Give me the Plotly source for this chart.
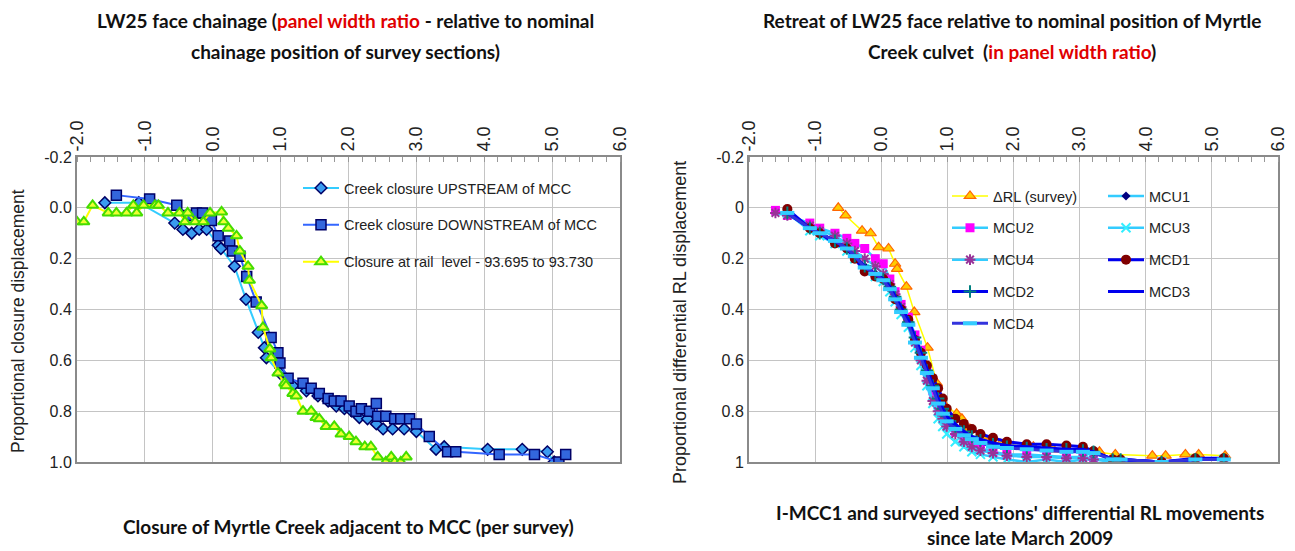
import plotly.graph_objects as go

# ---------------- data: left chart ----------------
up_x = [-1.59, -1.09, -0.56, -0.44, -0.31, -0.20, -0.09, 0.08, 0.12, 0.32,
        0.49, 0.67, 0.76, 0.79, 0.99, 1.18, 1.38, 1.55, 1.70, 1.82,
        1.94, 2.05, 2.16, 2.28, 2.41, 2.51, 2.65, 2.82, 3.00, 3.29,
        3.41, 4.05, 4.56, 4.93, 5.03]
up_y = [-0.02, -0.02, 0.06, 0.085, 0.10, 0.085, 0.085, 0.147, 0.16, 0.23,
        0.36, 0.49, 0.55, 0.59, 0.65, 0.70, 0.72, 0.74, 0.76, 0.78,
        0.79, 0.80, 0.825, 0.83, 0.85, 0.87, 0.87, 0.87, 0.88, 0.95,
        0.94, 0.95, 0.95, 0.96, 1.0]

down_x = [-1.42, -0.93, -0.53, -0.36, -0.24, -0.15, -0.02, 0.08, 0.25, 0.29,
          0.40, 0.50, 0.64, 0.86, 0.96, 0.99, 1.11, 1.33, 1.45, 1.57,
          1.70, 1.79, 1.89, 2.01, 2.11, 2.19, 2.31, 2.41, 2.43, 2.55,
          2.68, 2.77, 2.90, 3.00, 3.19, 3.46, 3.58, 4.22, 4.74, 5.10,
          5.20]
down_y = [-0.05, -0.035, -0.01, 0.03, 0.02, 0.02, 0.05, 0.11, 0.13, 0.17,
          0.19, 0.27, 0.37, 0.51, 0.57, 0.61, 0.67, 0.69, 0.71, 0.73,
          0.75, 0.76, 0.76, 0.78, 0.80, 0.79, 0.80, 0.77, 0.82, 0.82,
          0.83, 0.83, 0.83, 0.85, 0.90, 0.96, 0.96, 0.97, 0.97, 1.0,
          0.97]

rail_x = [-2.0, -1.90, -1.77, -1.54, -1.42, -1.27, -1.17, -1.12, -1.02, -0.85,
          -0.80, -0.66, -0.49, -0.41, -0.37, -0.26, -0.14, -0.04, 0.13, 0.16,
          0.23, 0.35, 0.40, 0.52, 0.54, 0.72, 0.74, 0.84, 0.86, 0.96,
          1.06, 1.08, 1.18, 1.23, 1.33, 1.45, 1.52, 1.57, 1.67, 1.79,
          1.89, 2.01, 2.11, 2.24, 2.33, 2.43, 2.55, 2.63, 2.68, 2.77,
          2.85]
rail_y = [0.055, 0.055, -0.01, 0.02, 0.02, 0.02, -0.01, 0.02, -0.01, -0.01,
          -0.01, 0.02, 0.02, 0.055, 0.02, 0.055, 0.055, 0.02, 0.016, 0.055,
          0.08, 0.11, 0.17, 0.23, 0.285, 0.385, 0.47, 0.555, 0.59, 0.65,
          0.69, 0.70, 0.73, 0.74, 0.80, 0.80, 0.825, 0.83, 0.86, 0.86,
          0.89, 0.90, 0.92, 0.94, 0.94, 0.98, 1.0, 0.98, 1.0, 1.0,
          0.98]

# ---------------- data: right chart ----------------
drl_x = [-0.65, -0.54, -0.29, -0.16, -0.04, 0.11, 0.21, 0.24, 0.38, 0.50,
         0.70, 0.84, 0.94, 1.14, 1.22, 1.34, 1.54, 1.80, 2.30, 2.60,
         3.01, 3.30, 3.54, 4.10, 4.30, 4.60, 4.80, 5.20]
drl_y = [0.0, 0.03, 0.09, 0.10, 0.155, 0.16, 0.22, 0.24, 0.31, 0.41,
         0.55, 0.69, 0.77, 0.81, 0.83, 0.87, 0.90, 0.93, 0.94, 0.95,
         0.95, 0.96, 0.97, 0.975, 0.975, 0.97, 0.97, 0.975]

sec_x_a = [-1.60, -1.42, -1.08, -0.93, -0.70, -0.52, -0.40, -0.25, -0.09, 0.03, 0.13,
           0.21, 0.30, 0.41, 0.51, 0.60, 0.69, 0.78, 0.86, 0.93, 0.99,
           1.12, 1.25, 1.37, 1.50, 1.69, 1.90, 2.20, 2.50, 2.80, 3.05,
           3.21, 3.50, 3.62, 4.24, 4.75, 5.18]
sec_x_b = [-1.42, -1.08, -0.93, -0.70, -0.52, -0.40, -0.25, -0.09, 0.03, 0.13,
           0.21, 0.30, 0.41, 0.51, 0.60, 0.69, 0.78, 0.86, 0.93, 0.99,
           1.12, 1.25, 1.37, 1.50, 1.69, 1.90, 2.20, 2.50, 2.80, 3.05,
           3.21, 3.50, 3.62, 4.24, 4.75, 5.18]

mcu1_y = [0.02, 0.08, 0.10, 0.13, 0.16, 0.19, 0.23, 0.26, 0.28, 0.32,
          0.36, 0.40, 0.45, 0.52, 0.58, 0.64, 0.71, 0.76, 0.80, 0.83,
          0.86, 0.89, 0.91, 0.92, 0.935, 0.94, 0.95, 0.95, 0.955, 0.96,
          0.965, 0.99, 0.99, 1.0, 0.99, 0.99]
mcu2_y = [0.01, 0.03, 0.06, 0.08, 0.10, 0.12, 0.14, 0.16, 0.20, 0.22, 0.28,
          0.33, 0.38, 0.43, 0.50, 0.56, 0.64, 0.72, 0.77, 0.81, 0.84,
          0.88, 0.91, 0.93, 0.945, 0.96, 0.97, 0.97, 0.975, 0.98, 0.98,
          0.985, 1.0, 1.0, 1.0, 0.99, 0.99]
mcu3_y = [0.02, 0.09, 0.11, 0.14, 0.17, 0.20, 0.24, 0.27, 0.29, 0.33,
          0.37, 0.42, 0.47, 0.55, 0.62, 0.70, 0.77, 0.83, 0.86, 0.89,
          0.92, 0.94, 0.96, 0.97, 0.98, 0.99, 1.0, 0.99, 1.0, 0.99,
          0.99, 1.0, 1.0, 1.0, 0.99, 0.99]
mcu4_y = [0.02, 0.03, 0.07, 0.09, 0.11, 0.14, 0.17, 0.20, 0.23, 0.26, 0.30,
          0.34, 0.39, 0.45, 0.53, 0.60, 0.68, 0.76, 0.80, 0.83, 0.86,
          0.89, 0.92, 0.94, 0.955, 0.965, 0.975, 0.98, 0.98, 0.985, 0.985,
          0.99, 0.99, 1.0, 1.0, 0.99, 0.99]
mcd1_y = [0.005, 0.08, 0.10, 0.14, 0.16, 0.20, 0.25, 0.27, 0.28, 0.31,
          0.36, 0.40, 0.44, 0.52, 0.57, 0.62, 0.67, 0.71, 0.75, 0.79,
          0.83, 0.85, 0.87, 0.89, 0.905, 0.92, 0.93, 0.93, 0.935, 0.94,
          0.957, 0.99, 0.99, 1.0, 0.985, 0.985]
mcd2_y = [0.02, 0.08, 0.10, 0.13, 0.16, 0.19, 0.23, 0.26, 0.28, 0.31,
          0.35, 0.40, 0.45, 0.51, 0.57, 0.64, 0.70, 0.75, 0.79, 0.82,
          0.86, 0.88, 0.90, 0.915, 0.93, 0.94, 0.945, 0.95, 0.95, 0.955,
          0.96, 0.99, 0.99, 1.0, 0.99, 0.99]
mcd3_y = [0.02, 0.08, 0.10, 0.13, 0.16, 0.19, 0.23, 0.26, 0.28, 0.31,
          0.35, 0.39, 0.44, 0.51, 0.57, 0.63, 0.70, 0.75, 0.79, 0.82,
          0.85, 0.88, 0.90, 0.91, 0.925, 0.935, 0.94, 0.945, 0.95, 0.95,
          0.96, 0.99, 0.99, 1.0, 0.99, 0.99]
mcd4_y = [0.02, 0.08, 0.10, 0.13, 0.16, 0.19, 0.235, 0.26, 0.285, 0.32,
          0.36, 0.41, 0.46, 0.53, 0.59, 0.65, 0.71, 0.77, 0.81, 0.84,
          0.87, 0.895, 0.91, 0.925, 0.94, 0.945, 0.95, 0.955, 0.96, 0.96,
          0.965, 0.99, 0.99, 1.0, 0.99, 0.99]

# ---------------- tick labels ----------------
x_ticks = [-2, -1, 0, 1, 2, 3, 4, 5, 6]
x_tick_text = ["-2.0", "-1.0", "0.0", "1.0", "2.0", "3.0", "4.0", "5.0", "6.0"]
y_ticks = [-0.2, 0.0, 0.2, 0.4, 0.6, 0.8, 1.0]
y_tick_text_left = ["-0.2", "0.0", "0.2", "0.4", "0.6", "0.8", "1.0"]
y_tick_text_right = ["-0.2", "0", "0.2", "0.4", "0.6", "0.8", "1"]

W, H = 1295, 551
FONT = "Liberation Sans, Arial, sans-serif"
TFONT = "Lato, Calibri, sans-serif"

fig = go.Figure()

# left chart traces
fig.add_trace(go.Scatter(
    x=up_x, y=up_y, name="Creek closure UPSTREAM of MCC", mode="lines+markers",
    line=dict(color="#33CCFF", width=2),
    marker=dict(symbol="diamond", size=9, color="#3A9BF0", line=dict(color="#000066", width=1.5)),
    xaxis="x", yaxis="y", legend="legend", legendgroup="a"))
fig.add_trace(go.Scatter(
    x=down_x, y=down_y, name="Creek closure DOWNSTREAM of MCC", mode="lines+markers",
    line=dict(color="#3366FF", width=2),
    marker=dict(symbol="square", size=10, color="#3366DD", line=dict(color="#000066", width=1.5)),
    xaxis="x", yaxis="y", legend="legend", legendgroup="b"))
fig.add_trace(go.Scatter(
    x=rail_x, y=rail_y, name="Closure at rail  level - 93.695 to 93.730", mode="lines+markers",
    line=dict(color="#FFFF00", width=2),
    marker=dict(symbol="triangle-up", size=10, color="#EEFF33", line=dict(color="#44DD00", width=2)),
    xaxis="x", yaxis="y", legend="legend", legendgroup="c"))

# right chart traces
def add_r(x, y, name, lcolor, lwidth, mk, leg, grp):
    fig.add_trace(go.Scatter(x=x, y=y, name=name, mode="lines+markers",
                             line=dict(color=lcolor, width=lwidth), marker=mk,
                             xaxis="x2", yaxis="y2", legend=leg, legendgroup=grp))

add_r(drl_x, drl_y, "ΔRL (survey)", "#FFFF00", 1.5,
      dict(symbol="triangle-up", size=10, color="#FFCC00", line=dict(color="#FF6600", width=1.2)), "legend2", "r1")
add_r(sec_x_b, mcu1_y, "MCU1", "#33CCFF", 2.5,
      dict(symbol="diamond", size=7, color="#000080"), "legend3", "r2")
add_r(sec_x_a, mcu2_y, "MCU2", "#33CCFF", 2.5,
      dict(symbol="square", size=9, color="#FF00FF"), "legend2", "r3")
add_r(sec_x_b, mcu3_y, "MCU3", "#33CCFF", 2.5,
      dict(symbol="x-thin", size=9, color="#33FFFF", line=dict(color="#33EEFF", width=2)), "legend3", "r4")
add_r(sec_x_a, mcu4_y, "MCU4", "#33CCFF", 2.5,
      dict(symbol="asterisk", size=9, color="#993399", line=dict(color="#993399", width=2)), "legend2", "r5")
add_r(sec_x_b, mcd1_y, "MCD1", "#0000EE", 3,
      dict(symbol="circle", size=10, color="#800000"), "legend3", "r6")
add_r(sec_x_b, mcd2_y, "MCD2", "#0000EE", 3,
      dict(symbol="cross-thin", size=9, color="#008080", line=dict(color="#008080", width=2)), "legend2", "r7")
add_r(sec_x_b, mcd3_y, "MCD3", "#0000EE", 3,
      dict(symbol="circle", size=3, color="#0000EE"), "legend3", "r8")
add_r(sec_x_b, mcd4_y, "MCD4", "#3333DD", 3,
      dict(symbol="line-ew", size=10, color="#33CCFF", line=dict(color="#33CCFF", width=4)), "legend2", "r9")

# axes
ytop, ybot = 157, 462
ydom = [1 - ybot / H, 1 - ytop / H]
grid = "#C4C4C4"

def xaxis_cfg(x0, x1):
    return dict(domain=[x0 / W, x1 / W], range=[-2, 6], side="top",
                tickmode="array", tickvals=x_ticks, ticktext=x_tick_text, tickangle=-90,
                tickfont=dict(family=FONT, size=18, color="#222"),
                showgrid=True, gridcolor=grid, gridwidth=1, zeroline=False,
                showline=True, mirror=True, linecolor="#8A8A8A", linewidth=2,
                ticks="", minor=dict(dtick=0.2, ticks="inside", ticklen=5, tickcolor="#999", showgrid=False),
                fixedrange=True, automargin=False)

def yaxis_cfg(anchor, ticktext):
    return dict(domain=ydom, range=[1.0, -0.2], anchor=anchor,
                tickmode="array", tickvals=y_ticks, ticktext=ticktext,
                tickfont=dict(family=FONT, size=16, color="#222"),
                showgrid=True, gridcolor=grid, gridwidth=1, zeroline=False,
                showline=True, mirror=True, linecolor="#8A8A8A", linewidth=2,
                ticks="", fixedrange=True, automargin=False)

fig.update_layout(
    width=W, height=H, margin=dict(l=0, r=0, t=0, b=0, autoexpand=False),
    paper_bgcolor="white", plot_bgcolor="white",
    xaxis=dict(xaxis_cfg(77, 620), anchor="y"),
    yaxis=yaxis_cfg("x", y_tick_text_left),
    xaxis2=dict(xaxis_cfg(749, 1278), anchor="y2"),
    yaxis2=yaxis_cfg("x2", y_tick_text_right),
    legend=dict(x=298 / W, y=1 - 172 / H, xanchor="left", yanchor="top",
                bgcolor="rgba(0,0,0,0)", font=dict(family=FONT, size=14.5, color="#222"),
                tracegroupgap=15, itemwidth=36),
    legend2=dict(x=947 / W, y=1 - 180 / H, xanchor="left", yanchor="top",
                 bgcolor="rgba(0,0,0,0)", font=dict(family=FONT, size=14.5, color="#222"),
                 tracegroupgap=10, itemwidth=36),
    legend3=dict(x=1103 / W, y=1 - 180 / H, xanchor="left", yanchor="top",
                 bgcolor="rgba(0,0,0,0)", font=dict(family=FONT, size=14.5, color="#222"),
                 tracegroupgap=10, itemwidth=36),
    showlegend=True,
)

def ann(text, xpx, ypx, size, family=TFONT, angle=0, color="#111"):
    fig.add_annotation(text=text, x=xpx / W, y=1 - ypx / H, xref="paper", yref="paper",
                       showarrow=False, xanchor="center", yanchor="middle", textangle=angle,
                       font=dict(family=family, size=size, color=color), align="center")

red = "<span style='color:#E00000'>"
ann("<b>LW25 face chainage (" + red + "panel width ratio</span> - relative to nominal</b>", 345, 21, 19)
ann("<b>chainage position of survey sections)</b>", 345, 51, 19)
ann("<b>Retreat of LW25 face relative to nominal position of Myrtle</b>", 1012, 21, 19)
ann("<b>Creek culvet  (" + red + "in panel width ratio</span>)</b>", 1012, 51, 19)
ann("<b>Closure of Myrtle Creek adjacent to MCC (per survey)</b>", 348, 526, 19)
ann("<b>I-MCC1 and surveyed sections' differential RL movements</b>", 1020, 512, 19)
ann("<b>since late March 2009</b>", 1020, 537, 19)
ann("Proportional closure displacement", 18, 321, 17.5, family=FONT, angle=-90, color="#222")
ann("Proportional differential RL displacement", 680, 322, 18, family=FONT, angle=-90, color="#222")

fig.write_html("out.html", config={"displayModeBar": False},
               post_script="document.body.style.margin='0';document.body.style.overflow='hidden';")
